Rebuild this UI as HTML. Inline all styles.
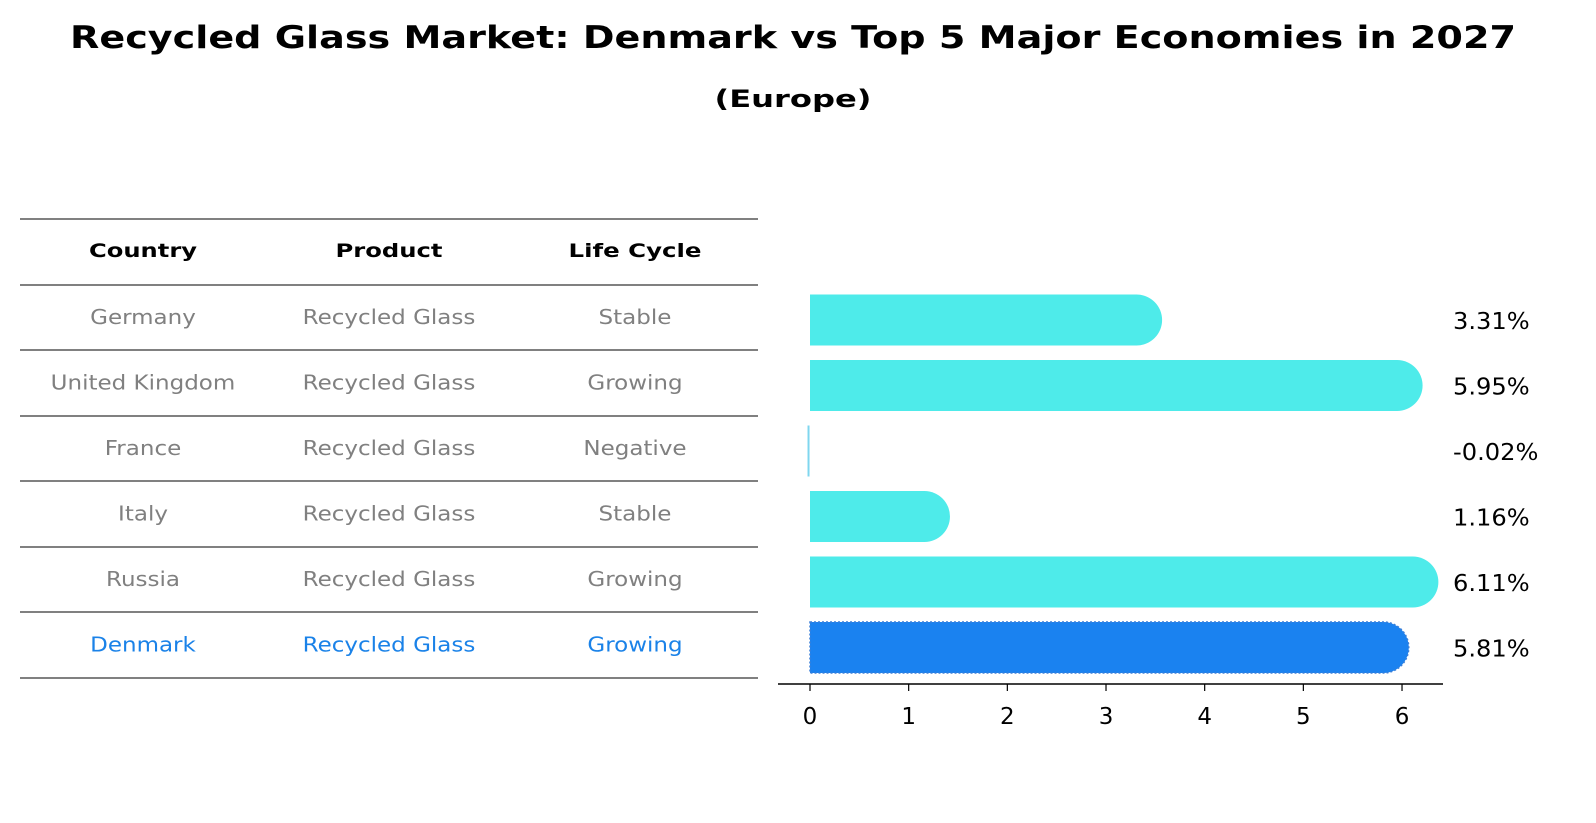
<!DOCTYPE html>
<html><head><meta charset="utf-8">
<style>
html,body{margin:0;padding:0;width:1596px;height:823px;background:#fff;overflow:hidden}
body{font-family:"Liberation Sans","DejaVu Sans",sans-serif}
svg{position:fixed;left:0;top:0;display:block}
</style></head><body>
<svg width="1596" height="823" viewBox="0 0 1596 823">
<text id="title" x="793" y="48" text-anchor="middle" font-size="31" font-weight="bold" font-family="DejaVu Sans, sans-serif" textLength="1446" lengthAdjust="spacingAndGlyphs">Recycled Glass Market: Denmark vs Top 5 Major Economies in 2027</text>
<text x="793" y="107" text-anchor="middle" font-size="24" font-weight="bold" font-family="DejaVu Sans, sans-serif" textLength="157" lengthAdjust="spacingAndGlyphs">(Europe)</text>
<g id="table"></g>
<g id="bars"></g>
</svg>
<script>
const countries=["Germany","United Kingdom","France","Italy","Russia","Denmark"];
const products=["Recycled Glass","Recycled Glass","Recycled Glass","Recycled Glass","Recycled Glass","Recycled Glass"];
const lifecycles=["Stable","Growing","Negative","Stable","Growing","Growing"];
const values=[3.31,5.95,-0.02,1.16,6.11,5.81];
const ticks=[0,1,2,3,4,5,6];
const NS="http://www.w3.org/2000/svg";
function mk(tag,attrs,parent){const e=document.createElementNS(NS,tag);for(const k in attrs)e.setAttribute(k,attrs[k]);parent.appendChild(e);return e;}
function stretch(t,k){try{const w=t.getComputedTextLength();if(w>0){t.setAttribute('textLength',(w*k).toFixed(1));t.setAttribute('lengthAdjust','spacingAndGlyphs');}}catch(e){}}
const xs=v=>810+v*98.67;
const rowY=i=>317+i*65.5;
const table=document.getElementById('table');
const lineYs=[219,285,350,416,481,547,612,678];
lineYs.forEach(y=>{const l=mk('line',{x1:20,x2:758,y1:y,y2:y,stroke:'#000','stroke-width':1},table);

});
const colX=[143,389,635];
const headW=[108,107,133];
["Country","Product","Life Cycle"].forEach((h,j)=>{const t=mk('text',{x:colX[j],y:257,'text-anchor':'middle','font-size':19,'font-weight':'bold','font-family':'DejaVu Sans, sans-serif',textLength:headW[j],lengthAdjust:'spacingAndGlyphs'},table);t.textContent=h;

});
countries.forEach((c,i)=>{const col=i===countries.length-1?'#1a82e8':'#808080';
[c,products[i],lifecycles[i]].forEach((v,j)=>{const t=mk('text',{x:colX[j],y:rowY(i)+7,'text-anchor':'middle','font-size':20,fill:col,'font-family':'DejaVu Sans, sans-serif'},table);t.textContent=v;


stretch(t,1.15);});});
const bars=document.getElementById('bars');
values.forEach((v,i)=>{const cy=rowY(i)+3,h=51,r=25.5;const den=i===values.length-1;
const fill=den?'#1a82f0':'#4eebea';
let b;
if(Math.abs(v)<0.1){b=mk('rect',{x:Math.min(xs(0),xs(v))-0.5,y:cy-h/2,width:2,height:h,fill:'#7fd6ef'},bars);}
else{const x0=xs(0),x1=xs(v);const d=`M${x0},${cy-h/2} L${x1},${cy-h/2} A${r},${r} 0 0 1 ${x1},${cy+h/2} L${x0},${cy+h/2} Z`;
b=mk('path',{d:d,fill:fill,stroke:den?'#3a7fd8':'none','stroke-dasharray':den?'2,2':'none','stroke-width':1.5},bars);}


const t=mk('text',{x:1453,y:cy+9,'font-size':23,fill:'#000','font-family':'DejaVu Sans, sans-serif'},bars);t.textContent=v.toFixed(2)+'%';


stretch(t,1.05);});
const ax=mk('line',{x1:778,x2:1443,y1:684,y2:684,stroke:'#000','stroke-width':1.5},bars);


ticks.forEach(tv=>{const tk=mk('line',{x1:xs(tv),x2:xs(tv),y1:684,y2:691,stroke:'#000','stroke-width':1.2},bars);


const t=mk('text',{x:xs(tv),y:724,'text-anchor':'middle','font-size':23,'font-family':'DejaVu Sans, sans-serif'},bars);t.textContent=tv;

});
</script>
</body></html>
